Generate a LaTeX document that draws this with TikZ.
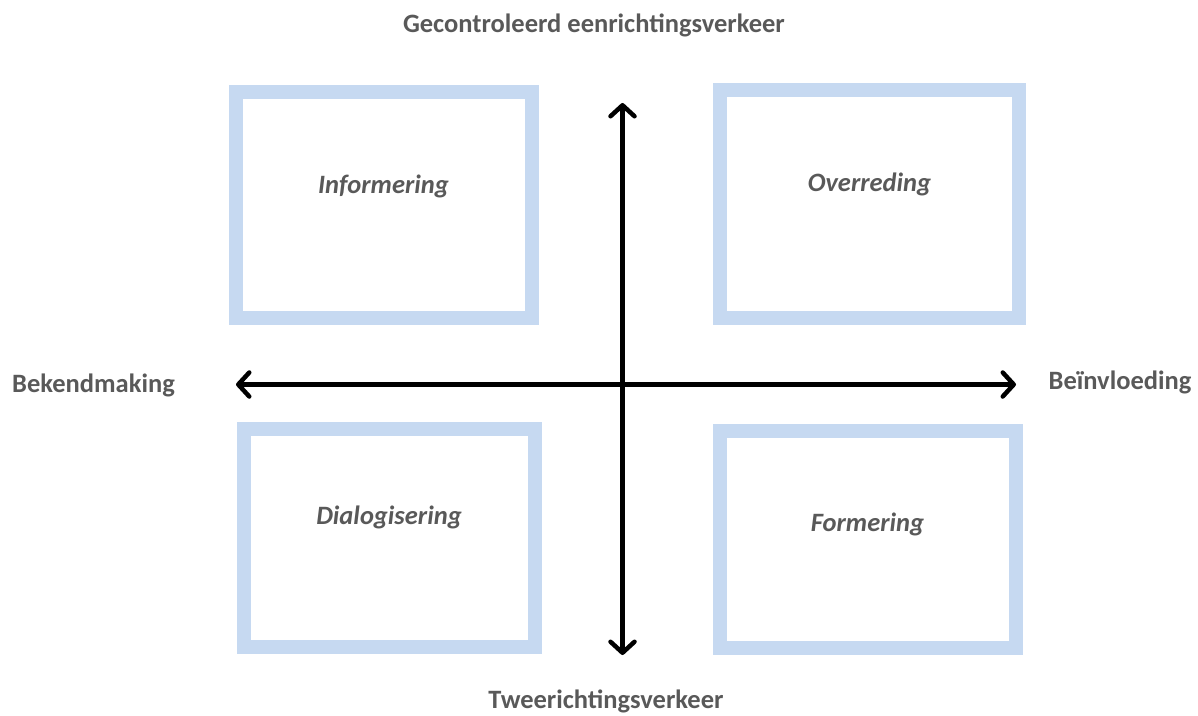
\documentclass[tikz,border=0pt]{standalone}
\usepackage{fontspec}
\setmainfont{Carlito}
\usepackage{xcolor}
\usetikzlibrary{arrows.meta}

\definecolor{labelgrey}{RGB}{89,89,89}
\definecolor{boxblue}{RGB}{198,217,241}

\tikzset{
  quadbox/.style={draw=boxblue, line width=14pt},
  axislabel/.style={text=labelgrey, font=\fontsize{26.5}{30}\selectfont\bfseries, inner sep=0pt},
  quadlabel/.style={text=labelgrey, font=\fontsize{26.5}{30}\selectfont\bfseries\itshape, inner sep=0pt},
  axis/.style={line width=4.5pt, {Straight Barb[length=11pt,width=24pt,round]}-{Straight Barb[length=11pt,width=24pt,round]}}
}

\begin{document}
\begin{tikzpicture}[x=1pt,y=1pt,yscale=-1,xscale=1]
\useasboundingbox (0,0) rectangle (1198,715);

%Shape: Rectangle [Informering]
\draw [quadbox] (236,92) rectangle (531.5,317.5);
%Shape: Rectangle [Overreding]
\draw [quadbox] (720,90) rectangle (1019,317.5);
%Shape: Rectangle [Dialogisering]
\draw [quadbox] (244,429) rectangle (535,646.5);
%Shape: Rectangle [Formering]
\draw [quadbox] (720,431) rectangle (1016,648);

%Axis end points
\coordinate (top) at (622.5,103);
\coordinate (bottom) at (622.5,655);
\coordinate (left) at (236,384.5);
\coordinate (right) at (1016,384.5);

%Straight Lines
\draw [axis] (bottom) -- (top);
%Straight Lines
\draw [axis] (left) -- (right);

% Text Node
\node [axislabel] (control) at (594,25) {Gecontroleerd eenrichtingsverkeer};
% Text Node
\node [axislabel] (tweericht) at (606,701) {Tweerichtingsverkeer};
% Text Node
\node [axislabel] (bekend) at (93.5,385) {Bekendmaking};
% Text Node
\node [axislabel] (beinvl) at (1120,382) {Beïnvloeding};

% Text Node
\node [quadlabel] (inform) at (383.5,186) {Informering};
% Text Node
\node [quadlabel] (overred) at (869.5,184) {Overreding};
% Text Node
\node [quadlabel] (dialoog) at (389,517) {Dialogisering};
% Text Node
\node [quadlabel] (former) at (867.5,524) {Formering};

\end{tikzpicture}
\end{document}
